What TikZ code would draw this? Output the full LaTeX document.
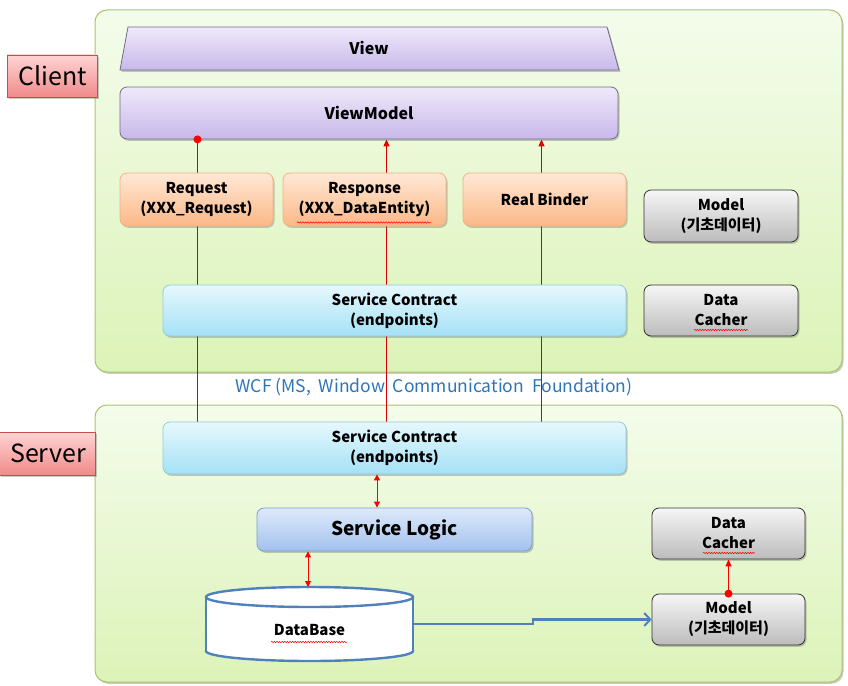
\documentclass[tikz,border=0pt]{standalone}
\usepackage{fontspec}
\setmainfont{Noto Sans CJK KR}
\usetikzlibrary{shapes.geometric,shadows,arrows.meta,decorations.pathmorphing}
\pgfdeclarelayer{panels}
\pgfdeclarelayer{wires}
\pgfsetlayers{panels,wires,main}
\definecolor{pnltop}{HTML}{F4FCEB}
\definecolor{pnlbot}{HTML}{DCF3B8}
\definecolor{pnlline}{HTML}{A9C46B}
\definecolor{lbltop}{HTML}{FFD4D4}
\definecolor{lblbot}{HTML}{F08A8A}
\definecolor{lblline}{HTML}{C0504D}
\definecolor{vtop}{HTML}{EFE9FB}
\definecolor{vbot}{HTML}{C8B8EA}
\definecolor{vline}{HTML}{6E6E86}
\definecolor{otop}{HTML}{FFE8D6}
\definecolor{obot}{HTML}{FBB886}
\definecolor{oline}{HTML}{F4B183}
\definecolor{gtop}{HTML}{F6F6F6}
\definecolor{gbot}{HTML}{BCBCBC}
\definecolor{gline}{HTML}{303030}
\definecolor{ctop}{HTML}{E6F8FD}
\definecolor{cbot}{HTML}{A4E1F6}
\definecolor{cline}{HTML}{8CCDE0}
\definecolor{btop}{HTML}{DEEAFB}
\definecolor{bbot}{HTML}{A3C1EE}
\definecolor{bline}{HTML}{7A9CD6}
\definecolor{wcfblue}{HTML}{2E75B6}
\definecolor{dbblue}{HTML}{4F81BD}
\definecolor{wire}{HTML}{D80000}
\begin{document}
\begin{tikzpicture}[x=1pt,y=-1pt,
  shadowed/.style={drop shadow={shadow xshift=1.5pt,shadow yshift=-1.8pt,opacity=0.35,fill=black!60}},
  panel/.style={draw=pnlline,line width=1pt,rounded corners=12pt,top color=pnltop,bottom color=pnlbot,shadowed},
  tag/.style={draw=lblline,line width=0.8pt,top color=lbltop,bottom color=lblbot,inner sep=0pt,font=\fontsize{25}{30}\selectfont,shadowed},
  box/.style={rounded corners=7pt,line width=0.8pt,align=center,inner sep=0pt,font=\bfseries\fontsize{15}{20}\selectfont,shadowed},
  violetbox/.style={box,draw=vline,top color=vtop,bottom color=vbot},
  orangebox/.style={box,draw=oline,top color=otop,bottom color=obot},
  graybox/.style={box,draw=gline,top color=gtop,bottom color=gbot},
  cyanbox/.style={box,draw=cline,top color=ctop,bottom color=cbot},
  bluebox/.style={box,draw=bline,top color=btop,bottom color=bbot},
  wireline/.style={draw=wire,line width=1.1pt},
  redarrow/.style={draw=red,line width=0.9pt,{Triangle[length=6pt,width=6pt]}-{Triangle[length=6pt,width=6pt]}},
  uparrow/.style={wireline,-{Triangle[length=7pt,width=6pt,fill=red]}},
  dot/.style={circle,fill=red,inner sep=0pt,minimum size=8pt},
  dbline/.style={draw=dbblue,line width=2.4pt},
  squig/.style={draw=red,line width=0.5pt,decorate,decoration={snake,amplitude=0.7pt,segment length=2.6pt}}]
\useasboundingbox (0,0) rectangle (848,685);

% labels
\node[tag,minimum width=90pt,minimum height=42pt] (clientlbl) at (52,76) {\hspace*{2pt}Client};
\node[tag,minimum width=96pt,minimum height=43pt] (serverlbl) at (47,453.5) {\hspace*{2pt}Server};

% panels
\begin{pgfonlayer}{panels}
\path[panel] (95,10) rectangle (842,372);
\path[panel] (95,405) rectangle (842,682);
\end{pgfonlayer}

% view trapezoid
\path[draw=vline,line width=0.8pt,top color=vtop,bottom color=vbot,shadowed]
  (128,27) -- (607,27) -- (619,70) -- (120,70) -- cycle;
\node[font=\bfseries\fontsize{16}{20}\selectfont] (view) at (369,48) {View};

% client boxes
\node[violetbox,minimum width=498pt,minimum height=52pt,font=\bfseries\fontsize{16}{20}\selectfont] (vm) at (369,113) {ViewModel};
\node[orangebox,minimum width=153pt,minimum height=53pt] (req) at (196.5,199.5) {Request\\(XXX\_Request)};
\node[orangebox,minimum width=163pt,minimum height=53pt] (resp) at (364.5,199.5) {Response\\(XXX\_DataEntity)};
\node[orangebox,minimum width=163pt,minimum height=53pt] (rb) at (544.5,199.5) {Real Binder};
\node[graybox,minimum width=154pt,minimum height=52pt] (modelC) at (721,216) {Model\\(기초데이터)};
\node[cyanbox,minimum width=463pt,minimum height=51pt] (scC) at (394.5,310.5) {Service Contract\\(endpoints)};
\node[graybox,minimum width=154pt,minimum height=51pt] (dcC) at (721,310.5) {Data\\Cacher};

% wcf text
\node[text=wcfblue,font=\fontsize{17.5}{20}\selectfont] (wcf) at (434,387) {WCF\ (MS,\ \ Window\ \ Communication\ \ Foundation)};

% server boxes
\node[cyanbox,minimum width=463pt,minimum height=52pt] (scS) at (394.5,448) {Service Contract\\(endpoints)};
\node[bluebox,minimum width=275pt,minimum height=43pt,font=\bfseries\fontsize{19}{24}\selectfont] (sl) at (394.5,529.5) {Service Logic};
\node[graybox,minimum width=153pt,minimum height=51pt] (dcS) at (728.5,533.5) {Data\\Cacher};
\node[graybox,minimum width=153pt,minimum height=51pt] (modelS) at (728.5,619.5) {Model\\(기초데이터)};

% database cylinder
\draw[dbline,fill=white] (309.5,651) ellipse [x radius=103.5,y radius=10];
\fill[white] (206,597) rectangle (413,651);
\draw[dbline] (206,597) -- (206,651);
\draw[dbline] (413,597) -- (413,651);
\draw[dbline,fill=white] (309.5,597) ellipse [x radius=103.5,y radius=10];
\node[font=\bfseries\fontsize{15}{20}\selectfont] (db) at (309.5,630) {DataBase};
\coordinate (dbtop) at (308,587);
\coordinate (dbright) at (413,624);
\coordinate (jog1) at (533,624);
\coordinate (jog2) at (533,619.5);

% wires between client and server
\coordinate (xa) at (197.5,0);
\coordinate (xb) at (386.5,0);
\coordinate (xc) at (541.5,0);
\begin{pgfonlayer}{wires}
\draw[wireline] (vm.south -| xa) -- (scS.north -| xa);
\draw[uparrow] (scS.north -| xb) -- (vm.south -| xb);
\draw[uparrow] (scS.north -| xc) -- (vm.south -| xc);
\end{pgfonlayer}
\node[dot] (dota) at (vm.south -| xa) {};

% server arrows
\coordinate (xd) at (377,0);
\draw[redarrow] (scS.south -| xd) -- (sl.north -| xd);
\draw[redarrow] (sl.south -| dbtop) -- (dbtop);
\draw[uparrow,draw=red] (modelS.north) -- (dcS.south);
\node[dot] (dotb) at (modelS.north) {};

% db to model
\draw[dbline,-{Straight Barb[length=6pt,width=13pt,line width=2pt]}] (dbright) -- (jog1) -- (jog2) -- (modelS.west);

% spell-check squiggles
\draw[squig] (297,222.5) -- (431,222.5);
\draw[squig] (694,330) -- (748,330);
\draw[squig] (703,553) -- (755,553);
\draw[squig] (271,642) -- (347,642);
\end{tikzpicture}
\end{document}
